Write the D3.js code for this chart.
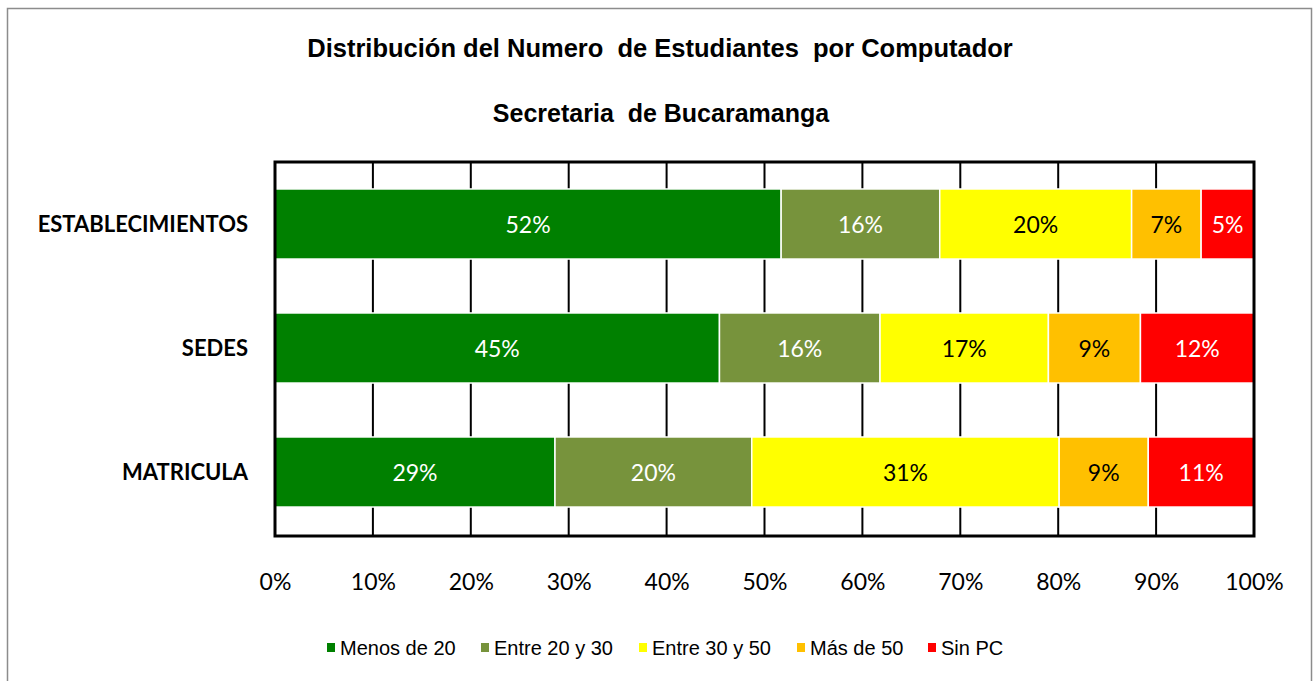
<!DOCTYPE html>
<html>
<head>
<meta charset="utf-8">
<script src="https://cdn.jsdelivr.net/npm/d3@7"></script>
<style>
  html, body { margin: 0; padding: 0; background: #fff; }
  svg { display: block; }
</style>
</head>
<body>
<svg id="chart" width="1313" height="681"></svg>
<script>
const categories = ["ESTABLECIMIENTOS", "SEDES", "MATRICULA"];
const seriesNames = ["Menos de 20", "Entre 20 y 30", "Entre 30 y 50", "Más de 50", "Sin PC"];
const menosDe20   = [51.7, 45.4, 28.6];
const entre20y30  = [16.2, 16.4, 20.1];
const entre30y50  = [19.6, 17.2, 31.4];
const masDe50     = [7.1, 9.4, 9.1];
const sinPC       = [5.4, 11.6, 10.8];
const xTicks = [0, 10, 20, 30, 40, 50, 60, 70, 80, 90, 100];
const titleText = "Distribución del Numero  de Estudiantes  por Computador";
const subtitleText = "Secretaria  de Bucaramanga";

const seriesValues = [menosDe20, entre20y30, entre30y50, masDe50, sinPC];
const colors = ["#008000", "#77933C", "#FFFF00", "#FFC000", "#FF0000"];
const labelColors = ["#ffffff", "#ffffff", "#000000", "#000000", "#ffffff"];

const svg = d3.select("#chart");

// outer chart border
svg.append("rect").attr("x", 7.5).attr("y", 8.5).attr("width", 1304).attr("height", 700)
  .attr("fill", "#fff").attr("stroke", "#8c8c8c").attr("stroke-width", 1.5);

const plot = { x0: 275, x1: 1254, y0: 162, y1: 534 };

const x = d3.scaleLinear().domain([0, 100]).range([plot.x0, plot.x1]);
const y = d3.scaleBand().domain(categories).range([plot.y0, plot.y1])
  .paddingInner(0.435).paddingOuter(0.2175);

// gridlines
svg.append("g").selectAll("line").data(xTicks.slice(1, -1)).join("line")
  .attr("x1", d => x(d)).attr("x2", d => x(d))
  .attr("y1", plot.y0).attr("y2", plot.y1 + 1)
  .attr("stroke", "#000").attr("stroke-width", 2);

// stacked data
const rows = categories.map((c, i) => {
  const o = { cat: c };
  seriesNames.forEach((s, j) => o[s] = seriesValues[j][i]);
  return o;
});
const stack = d3.stack().keys(seriesNames)(rows);

const groups = svg.append("g").selectAll("g").data(stack).join("g")
  .attr("fill", (d, i) => colors[i]);

groups.selectAll("rect").data(d => d).join("rect")
  .attr("x", d => x(d[0]))
  .attr("y", d => y(d.data.cat))
  .attr("width", d => x(d[1]) - x(d[0]))
  .attr("height", y.bandwidth())
  .attr("stroke", "#ffffff").attr("stroke-width", 1.5);

// data labels
stack.forEach((s, i) => {
  svg.append("g").selectAll("text").data(s).join("text")
    .attr("x", d => (x(d[0]) + x(d[1])) / 2)
    .attr("y", d => y(d.data.cat) + y.bandwidth() / 2 + 9)
    .attr("text-anchor", "middle")
    .attr("font-family", "Lato, 'Open Sans', sans-serif")
    .attr("font-size", 23)
    .attr("fill", labelColors[i])
    .text(d => Math.round(d[1] - d[0]) + "%");
});

// plot border
svg.append("rect").attr("x", plot.x0).attr("y", plot.y0)
  .attr("width", plot.x1 - plot.x0).attr("height", plot.y1 + 2 - plot.y0)
  .attr("fill", "none").attr("stroke", "#000").attr("stroke-width", 3);

// x axis
const xAxis = svg.append("g").attr("transform", `translate(0,${plot.y1})`)
  .call(d3.axisBottom(x).tickValues(xTicks).tickSize(0).tickPadding(40).tickFormat(d => d + "%"));
xAxis.select(".domain").remove();
xAxis.selectAll("text").attr("font-family", "Lato, 'Open Sans', sans-serif")
  .attr("font-size", 23).attr("fill", "#000");

// y axis
const yAxis = svg.append("g").attr("transform", `translate(${plot.x0},0)`)
  .call(d3.axisLeft(y).tickSize(0).tickPadding(27));
yAxis.select(".domain").remove();
yAxis.selectAll("text").attr("font-family", "Lato, 'Open Sans', sans-serif")
  .attr("font-weight", "bold").attr("font-size", 22).attr("fill", "#000")
  .attr("dy", "0.38em");

// titles
svg.append("text").attr("x", 660).attr("y", 57).attr("text-anchor", "middle")
  .attr("font-family", "'Liberation Sans', Arial, sans-serif").attr("font-weight", "bold")
  .attr("font-size", 25.5).attr("fill", "#000").style("white-space", "pre").text(titleText);
svg.append("text").attr("x", 661).attr("y", 122).attr("text-anchor", "middle")
  .attr("font-family", "'Liberation Sans', Arial, sans-serif").attr("font-weight", "bold")
  .attr("font-size", 25).attr("fill", "#000").style("white-space", "pre").text(subtitleText);

// legend
const legendX = [327, 481, 639, 797, 928];
const legend = svg.append("g").selectAll("g").data(seriesNames).join("g")
  .attr("transform", (d, i) => `translate(${legendX[i]},648)`);
legend.append("rect").attr("x", 0).attr("y", -5).attr("width", 8).attr("height", 9)
  .attr("fill", (d, i) => colors[i]);
legend.append("text").attr("x", 13).attr("y", 7)
  .attr("font-family", "'Liberation Sans', Arial, sans-serif").attr("font-size", 20)
  .attr("fill", "#000").text(d => d);
</script>
</body>
</html>
